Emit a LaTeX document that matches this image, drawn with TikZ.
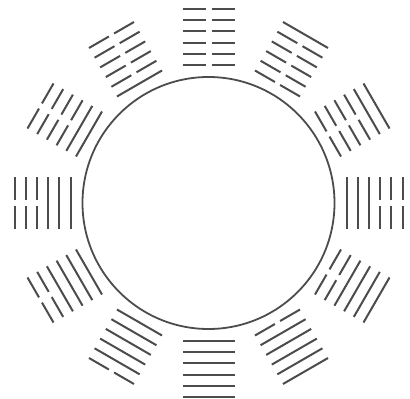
\documentclass[tikz,border=0pt]{standalone}
\begin{document}
\begin{tikzpicture}[x=1pt,y=1pt,
  yao/.style={draw=black!70, line width=2pt},
  ring/.style={draw=black!70, line width=1.8pt}]
\useasboundingbox (0,0) rectangle (410,399);
\coordinate (O) at (208.5,196);
\draw[ring] (O) circle [radius=126pt];
\foreach \ang/\pat in {
  90/{0,0,0,0,0,0},
  120/{1,0,0,0,0,0},
  150/{1,1,0,0,0,0},
  180/{1,1,1,0,0,0},
  210/{1,1,1,1,0,0},
  240/{1,1,1,1,1,0},
  270/{1,1,1,1,1,1},
  300/{0,1,1,1,1,1},
  330/{0,0,1,1,1,1},
  0/{1,1,1,0,0,0},
  30/{0,0,0,0,1,1},
  60/{0,0,0,0,0,1}}{
  \begin{scope}[shift={(O)}, rotate=\ang-90]
    \foreach \b [count=\i from 0] in \pat {
      \pgfmathsetmacro{\r}{138+11.2*\i}
      \ifnum\b=1
        \draw[yao] (-26,\r) -- (26,\r);
      \else
        \draw[yao] (-26,\r) -- (-3,\r);
        \draw[yao] (3,\r) -- (26,\r);
      \fi
    }
  \end{scope}
}
\end{tikzpicture}
\end{document}
